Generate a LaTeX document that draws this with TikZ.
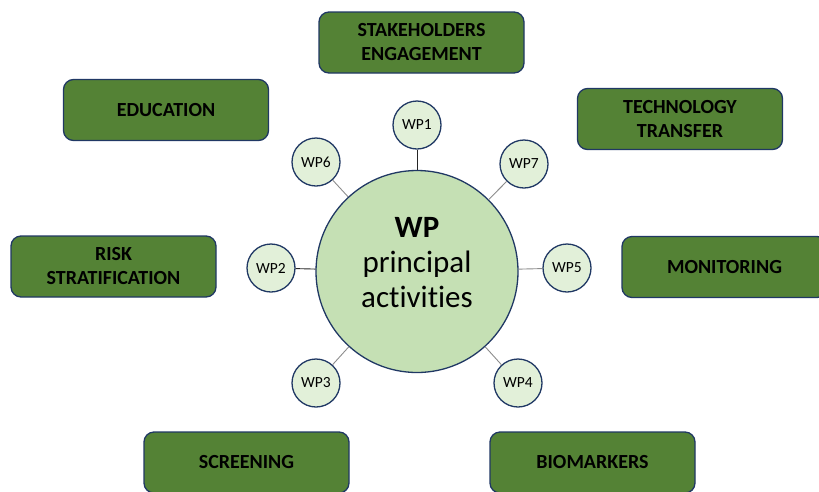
\documentclass[tikz,border=0pt]{standalone}
\usepackage{fontspec}
\setmainfont[Ligatures={NoCommon,NoRare}]{Carlito}
\definecolor{boxgreen}{HTML}{548235}
\definecolor{navy}{HTML}{203864}
\definecolor{hubgreen}{HTML}{C5E0B4}
\definecolor{wpgreen}{HTML}{E2F0D9}
\begin{document}
\begin{tikzpicture}
  [ x=1pt, y=-1pt,
    area/.style={draw=navy, fill=boxgreen, line width=1.3pt, rounded corners=10pt,
    minimum width=205pt, minimum height=61pt, align=center,
    font=\fontsize{20}{24}\selectfont\bfseries},
    hub/.style={circle, draw=navy, fill=hubgreen, line width=1.3pt,
    minimum size=202pt},
    hubtext/.style={align=center, font=\fontsize{31}{35}\selectfont},
    wp/.style={circle, draw=navy, fill=wpgreen, line width=1.3pt,
    minimum size=48pt, inner sep=0pt, font=\fontsize{15.5}{18}\selectfont},
    lk/.style={draw=black!85, line width=0.9pt},
    lg/.style={draw=black!45, line width=0.9pt}
  ]
  \clip (0,0) rectangle (819,491);

  \node (stk) at (421.5, 42.5) [area] {STAKEHOLDERS\\ENGAGEMENT};
  \node (edu) at (166.0,110.0) [area] {EDUCATION};
  \node (tec) at (680.0,119.0) [area] {TECHNOLOGY\\TRANSFER};
  \node (rsk) at (113.5,266.5) [area] {RISK\\STRATIFICATION};
  \node (mon) at (724.5,267.0) [area] {MONITORING};
  \node (scr) at (246.5,462.5) [area] {SCREENING};
  \node (bio) at (592.5,462.5) [area] {BIOMARKERS};

  \node (hub) at (417.0,271.5) [hub] {};
  \node (hubtxt) at (417.0,263.0) [hubtext] {\textbf{WP}\\principal\\activities};

  \node (wp1) at (417,125) [wp] {WP1};
  \node (wp6) at (316,162) [wp] {WP6};
  \node (wp7) at (524,164) [wp] {WP7};
  \node (wp2) at (271,268) [wp] {WP2};
  \node (wp5) at (567,268) [wp] {WP5};
  \node (wp3) at (316,383) [wp] {WP3};
  \node (wp4) at (518,383) [wp] {WP4};

  \draw [lk] (wp1) -- (hub);
  \draw [lk] (wp2) -- (hub);
  \draw [lg] (wp6) -- (hub);
  \draw [lg] (wp7) -- (hub);
  \draw [lg] (wp5) -- (hub);
  \draw [lg] (wp3) -- (hub);
  \draw [lg] (wp4) -- (hub);
\end{tikzpicture}
\end{document}
